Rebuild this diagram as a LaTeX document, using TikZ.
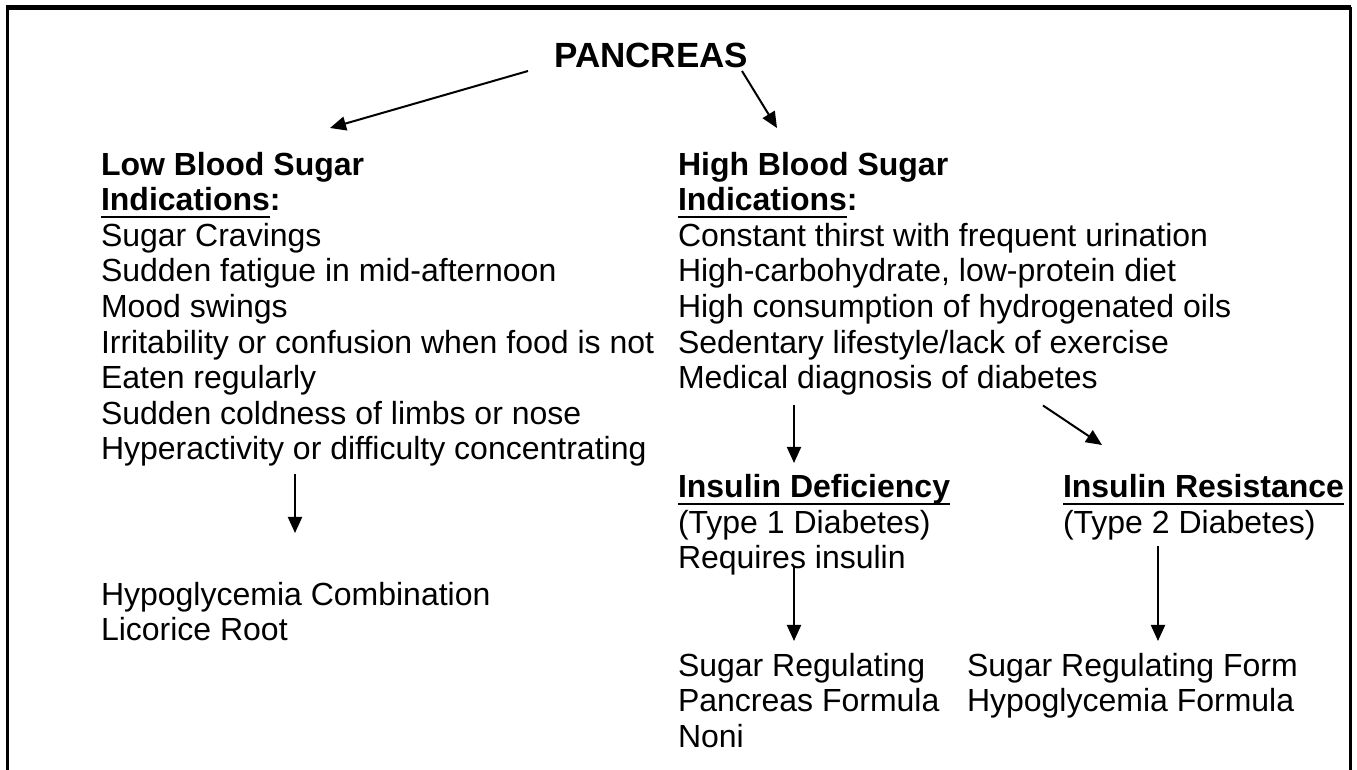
\documentclass[tikz,border=0pt]{standalone}
\usepackage{fontspec}
\setmainfont{Liberation Sans}
\usetikzlibrary{arrows.meta,calc}
\newsavebox\ulbox
\newcommand{\ulin}[1]{\sbox\ulbox{#1}\rlap{\rule[-3.7pt]{\wd\ulbox}{1.3pt}}\usebox\ulbox}

\begin{document}
\begin{tikzpicture}[x=0.5pt,y=-0.5pt,font=\fontsize{16pt}{17.8pt}\selectfont]
\tikzset{
  txt/.style={anchor=north west,align=left,inner sep=0pt,outer sep=0pt,execute at begin node=\strut,execute at end node=\strut},
  title/.style={anchor=base west,inner sep=0pt,font=\fontsize{17.5pt}{20pt}\selectfont\bfseries},
  arr/.style={-{Triangle[length=8pt,width=7pt]},line width=1pt}
}
\useasboundingbox (0,0) rectangle (1357,770);
% frame, open at the bottom
\draw[line width=2.5pt] (6,8) -- (1351,8);
\draw[line width=1.5pt] (7.5,7) -- (7.5,770);
\draw[line width=1.5pt] (1350,7) -- (1350,770);
\node(pan)[title] at (554,68) {PANCREAS};
\node(low)[txt] at (101,152) {\textbf{Low Blood Sugar}\\\textbf{\ulin{Indications}:}\\Sugar Cravings\\Sudden fatigue in mid-afternoon\\Mood swings\\Irritability or confusion when food is not\\Eaten regularly\\Sudden coldness of limbs or nose\\Hyperactivity or difficulty concentrating};
\node(high)[txt] at (678,152) {\textbf{High Blood Sugar}\\\textbf{\ulin{Indications}:}\\Constant thirst with frequent urination\\High-carbohydrate, low-protein diet\\High consumption of hydrogenated oils\\Sedentary lifestyle/lack of exercise\\Medical diagnosis of diabetes};
\node(hypo)[txt] at (101,582) {Hypoglycemia Combination\\Licorice Root};
\node(defic)[txt] at (678,474.6) {\textbf{\ulin{Insulin Deficiency}}\\(Type 1 Diabetes)\\Requires insulin};
\node(resist)[txt] at (1063,474.6) {\textbf{\ulin{Insulin Resistance}}\\(Type 2 Diabetes)};
\node(forma)[txt] at (678,653) {Sugar Regulating\\Pancreas Formula\\Noni};
\node(formb)[txt] at (967,653) {Sugar Regulating Form\\Hypoglycemia Formula};
% arrows
\draw[arr] ($(pan.base west)+(-26,3)$) -- ($(low.north west)+(229,-24)$);
\draw[arr] ($(pan.base west)+(188,3)$) -- ($(high.north west)+(99,-24)$);
\draw[arr] ($(low.south west)+(194,3.5)$) -- ($(hypo.north west)+(194,-49)$);
\draw[arr] ($(high.south west)+(116,6)$) -- ($(defic.north west)+(116,-11.6)$);
\draw[arr] ($(high.south west)+(365,6)$) -- ($(resist.north west)+(39,-29.6)$);
\draw[arr] ($(defic.south west)+(116,-13)$) -- ($(forma.north west)+(116,-12)$);
\draw[arr] ($(resist.south west)+(95,2)$) -- ($(formb.north west)+(191,-12)$);
\end{tikzpicture}
\end{document}
